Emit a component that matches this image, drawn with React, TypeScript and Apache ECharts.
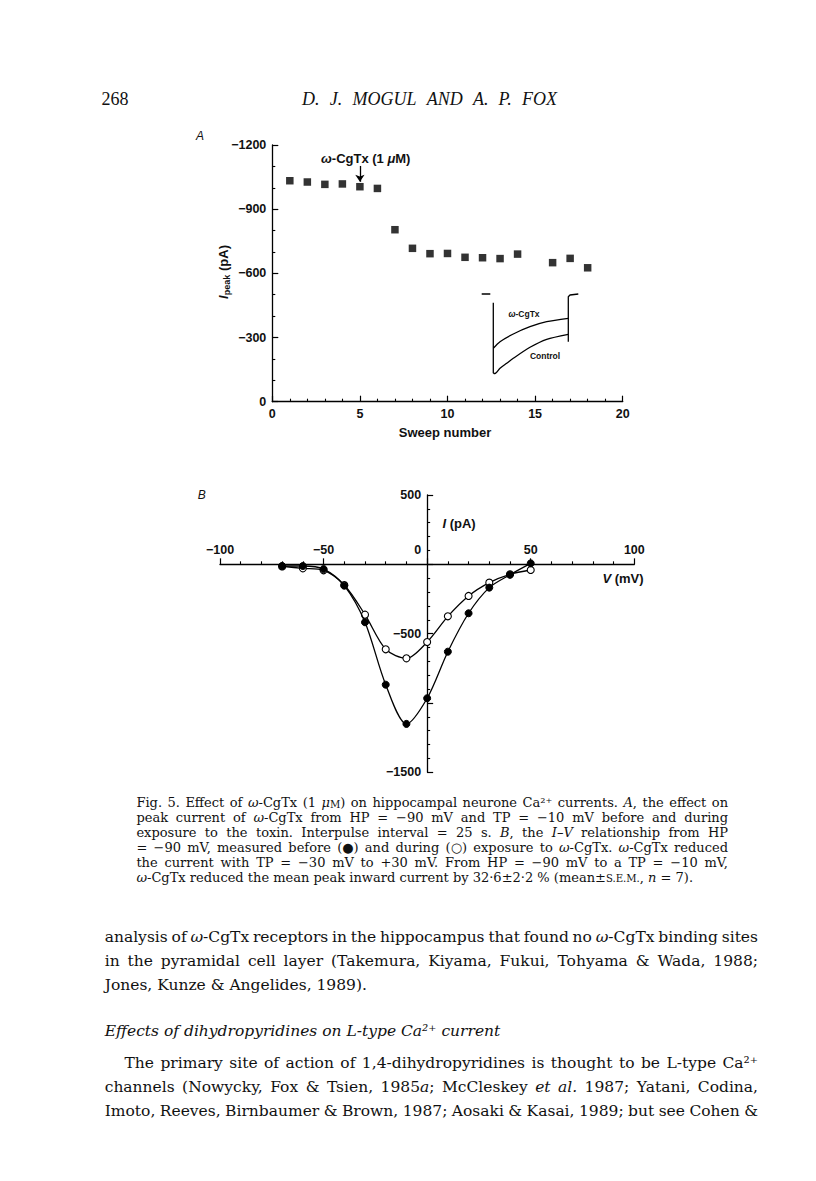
import React, { useEffect, useRef } from 'react';
import * as echarts from 'echarts';

// ---------- Panel A data ----------
const sweepNumbers = [1, 2, 3, 4, 5, 6, 7, 8, 9, 10, 11, 12, 13, 14, 16, 17, 18];
const peakCurrents = [-1033, -1027, -1016, -1018, -1005, -997, -804, -717, -692, -693, -675, -673, -669, -690, -650, -670, -626];
const toxinSweep = 5;
const arrowFrom = -1102;
const arrowTo = -1028;

// ---------- Inset current traces (ms, arbitrary pA) ----------
const holdT = [-11.6, -3];
const holdI = [0, 0];
const onsetT = [0, 0];
const onsetI = [-87, -793];
const controlT = [0, 1.7, 6.7, 13.4, 20, 36.7, 53.4, 75];
const controlI = [-793, -795, -743, -693, -643, -533, -453, -403];
const cgtxT = [0, 6.7, 20, 36.7, 53.4, 75];
const cgtxI = [-543, -477, -400, -327, -277, -243];
const tailT = [75, 75, 76.7, 85];
const tailI = [-477, -27, -10, 0];

// ---------- Panel B data ----------
const voltages = [-70, -60, -50, -40, -30, -20, -10, 0, 10, 20, 30, 40, 50];
const controlIV = [-12, -12, -34, -154, -418, -868, -1151, -966, -630, -353, -168, -75, 7];
const cgtxIV = [-15, -29, -43, -149, -363, -613, -678, -560, -375, -228, -132, -72, -41];

// ---------- Page text ----------
const pageNumber = '268';
const runningHead = 'D. J. MOGUL AND A. P. FOX';
const captionLines = [
  'Fig. 5. Effect of _ω_-CgTx (1 _μ_^M^) on hippocampal neurone Ca²⁺ currents. _A_, the effect on',
  'peak current of _ω_-CgTx from HP = −90 mV and TP = −10 mV before and during',
  'exposure to the toxin. Interpulse interval = 25 s. _B_, the _I–V_ relationship from HP',
  '= −90 mV, measured before (●) and during (○) exposure to _ω_-CgTx. _ω_-CgTx reduced',
  'the current with TP = −30 mV to +30 mV. From HP = −90 mV to a TP = −10 mV,',
  '_ω_-CgTx reduced the mean peak inward current by 32·6±2·2 % (mean±^S.E.M.^, _n_ = 7).',
];
const bodyLines1 = [
  'analysis of _ω_-CgTx receptors in the hippocampus that found no _ω_-CgTx binding sites',
  'in the pyramidal cell layer (Takemura, Kiyama, Fukui, Tohyama & Wada, 1988;',
  'Jones, Kunze & Angelides, 1989).',
];
const headingText = 'Effects of dihydropyridines on L-type Ca²⁺ current';
const bodyLines2 = [
  'The primary site of action of 1,4-dihydropyridines is thought to be L-type Ca²⁺',
  'channels (Nowycky, Fox & Tsien, 1985_a_; McCleskey _et_ _al._ 1987; Yatani, Codina,',
  'Imoto, Reeves, Birnbaumer & Brown, 1987; Aosaki & Kasai, 1989; but see Cohen &',
];

const INK = '#111111';
const MARK = '#000000';
const SANS = '"Liberation Sans", Arial, Helvetica, sans-serif';
const SERIF = '"DejaVu Serif", serif';
const HEADSERIF = '"Liberation Serif", "Times New Roman", serif';

type Seg = { t: string; i: boolean; sc: boolean };

function parseWord(w: string): Seg[] {
  const segs: Seg[] = [];
  let it = false;
  let sc = false;
  let cur = '';
  for (const ch of w) {
    if (ch === '_' || ch === '^') {
      if (cur) segs.push({ t: cur, i: it, sc });
      cur = '';
      if (ch === '_') it = !it;
      else sc = !sc;
    } else cur += ch;
  }
  if (cur) segs.push({ t: cur, i: it, sc });
  return segs;
}

function textLine(
  ctx: CanvasRenderingContext2D,
  text: string,
  o: { x0: number; x1?: number; y: number; size: number; family: string; italic?: boolean; justify?: boolean }
) {
  const baseItalic = !!o.italic;
  const scSize = Math.round(o.size * 0.78 * 10) / 10;
  const font = (sz: number, it: boolean) => `${it ? 'italic' : 'normal'} normal ${sz}px ${o.family}`;
  const words = text.split(' ').filter((w) => w.length > 0);
  const items = words.map((w) => {
    const segs = parseWord(w);
    let width = 0;
    let str = '';
    segs.forEach((s) => {
      const it = baseItalic || s.i;
      const sz = s.sc ? scSize : o.size;
      ctx.font = font(sz, it);
      width += ctx.measureText(s.t).width;
      if (s.sc) str += `{sc|${s.t}}`;
      else if (s.i && !baseItalic) str += `{i|${s.t}}`;
      else str += s.t;
    });
    return { str, width };
  });
  ctx.font = font(o.size, baseItalic);
  const space = ctx.measureText(' ').width;
  const total = items.reduce((a, b) => a + b.width, 0);
  let gap = space;
  if (o.justify && o.x1 !== undefined && items.length > 1) gap = (o.x1 - o.x0 - total) / (items.length - 1);
  const rich = {
    i: { fontStyle: 'italic', fontSize: o.size, fontFamily: o.family, fill: INK, color: INK },
    sc: { fontStyle: baseItalic ? 'italic' : 'normal', fontSize: scSize, fontFamily: o.family, fill: INK, color: INK, verticalAlign: 'bottom' },
  };
  let x = o.x0;
  return items.map((it) => {
    const el = {
      type: 'text',
      x,
      y: o.y,
      silent: true,
      style: {
        text: it.str,
        fontSize: o.size,
        fontFamily: o.family,
        fontStyle: baseItalic ? 'italic' : 'normal',
        fill: INK,
        align: 'left',
        verticalAlign: 'middle',
        textAlign: 'left',
        textVerticalAlign: 'middle',
        rich,
      },
    };
    x += it.width + gap;
    return el;
  });
}

const pair = (xs: number[], ys: number[]) => xs.map((x, i) => [x, ys[i]]);
const minus = (v: number) => String(v).replace('-', '−');

export default function App() {
  const ref = useRef<HTMLDivElement>(null);

  useEffect(() => {
    if (!ref.current) return;
    const chart = echarts.init(ref.current, null, { renderer: 'svg' });
    const canvas = document.createElement('canvas');
    const ctx = canvas.getContext('2d') as CanvasRenderingContext2D;

    const texts: any[] = [];
    // running head
    texts.push(...textLine(ctx, pageNumber, { x0: 101.5, y: 99, size: 18, family: HEADSERIF }));
    texts.push(...textLine(ctx, runningHead, { x0: 302, x1: 557, y: 99, size: 18, family: HEADSERIF, italic: true, justify: true }));
    // caption
    const capY = [802.8, 817.8, 832.8, 847.6, 862.5, 877.2];
    captionLines.forEach((l, k) => {
      texts.push(...textLine(ctx, l, { x0: 136.4, x1: 728, y: capY[k], size: 13, family: SERIF, justify: k < captionLines.length - 1 }));
    });
    // body
    const b1Y = [936.9, 960.6, 985.1];
    bodyLines1.forEach((l, k) => {
      texts.push(...textLine(ctx, l, { x0: 104.7, x1: 758, y: b1Y[k], size: 15.5, family: SERIF, justify: k < bodyLines1.length - 1 }));
    });
    texts.push(...textLine(ctx, headingText, { x0: 104.7, y: 1030.9, size: 15.5, family: SERIF, italic: true }));
    const b2Y = [1062.5, 1087, 1110.8];
    bodyLines2.forEach((l, k) => {
      texts.push(...textLine(ctx, l, { x0: k === 0 ? 124.5 : 104.7, x1: 758, y: b2Y[k], size: 15.5, family: SERIF, justify: true }));
    });

    const sansText = (x: number, y: number, text: string, size: number, extra: any = {}) => ({
      type: 'text',
      x,
      y,
      silent: true,
      rotation: extra.rotation || 0,
      style: {
        text,
        fontSize: size,
        fontFamily: SANS,
        fontWeight: extra.fontWeight || 'bold',
        fontStyle: extra.fontStyle || 'normal',
        fill: INK,
        align: 'center',
        verticalAlign: 'middle',
        textAlign: 'center',
        textVerticalAlign: 'middle',
        rich: {
          i: { fontStyle: 'italic', fontSize: size, fontFamily: SANS, fontWeight: 'bold', fill: INK },
          sub: { fontSize: size * 0.7, fontFamily: SANS, fontWeight: 'bold', fill: INK, padding: [8, 0, 0, 0] },
        },
      },
    });

    const chartTexts = [
      sansText(200, 136, 'A', 12, { fontStyle: 'italic', fontWeight: 'normal' }),
      sansText(201.7, 495, 'B', 12, { fontStyle: 'italic', fontWeight: 'normal' }),
      sansText(365.7, 158.3, '{i|ω}-CgTx (1 {i|μ}M)', 13),
      sansText(445, 432.3, 'Sweep number', 13),
      sansText(223.3, 272, '{i|I}{sub|peak} (pA)', 13, { rotation: Math.PI / 2 }),
      sansText(524, 314.3, '{i|ω}-CgTx', 8.5),
      sansText(545, 356, 'Control', 8.5),
      sansText(459, 523, '{i|I} (pA)', 13),
      sansText(623, 578, '{i|V} (mV)', 13),
    ];

    const axisLine = { show: true, onZero: false, lineStyle: { color: MARK, width: 1.3 } };
    const tickLabel = { color: INK, fontFamily: SANS, fontWeight: 'bold', fontSize: 12.5 };
    const majorTick = { show: true, inside: true, length: 6, lineStyle: { color: MARK, width: 1.2 } };
    const minorTickStyle = { length: 3, lineStyle: { color: MARK, width: 1.1 } };

    // panel B grid geometry; axes are shifted so they cross at (0, 0)
    const bLeft = 220;
    const bTop = 495;
    const bWidth = 414.3;
    const bHeight = 277.3;
    const xMinB = -100;
    const xMaxB = 100;
    const yMinB = -1500;
    const yMaxB = 500;
    const xAxisShift = -bHeight * (0 - yMinB) / (yMaxB - yMinB);
    const yAxisShift = -bWidth * (0 - xMinB) / (xMaxB - xMinB);

    const inset = (data: number[][], smooth: number | boolean = false) => ({
      type: 'line',
      xAxisIndex: 2,
      yAxisIndex: 2,
      data,
      smooth,
      showSymbol: false,
      symbol: 'none',
      silent: true,
      lineStyle: { color: MARK, width: 1.3 },
    });

    chart.setOption({
      animation: false,
      backgroundColor: '#ffffff',
      grid: [
        { left: 272.3, top: 145, width: 350.4, height: 256.7, containLabel: false, outerBoundsMode: 'none' },
        { left: bLeft, top: bTop, width: bWidth, height: bHeight, containLabel: false, outerBoundsMode: 'none' },
        { left: 481.3, top: 289, width: 100, height: 90, containLabel: false, outerBoundsMode: 'none' },
      ],
      xAxis: [
        {
          type: 'value', gridIndex: 0, min: 0, max: 20, interval: 5,
          axisLine,
          axisTick: majorTick,
          minorTick: { show: true, splitNumber: 5, ...minorTickStyle },
          axisLabel: { ...tickLabel, margin: 6 },
          splitLine: { show: false },
          minorSplitLine: { show: false },
        },
        {
          type: 'value', gridIndex: 1, min: xMinB, max: xMaxB, interval: 50,
          position: 'bottom',
          offset: xAxisShift,
          axisLine,
          axisTick: majorTick,
          minorTick: { show: true, splitNumber: 5, ...minorTickStyle },
          axisLabel: {
            ...tickLabel,
            inside: true,
            margin: 8,
            formatter: (v: number) => (v === 0 ? '{z|0}' : minus(v)),
            rich: { z: { ...tickLabel, padding: [0, 19, 0, 0] } },
          },
          splitLine: { show: false },
          minorSplitLine: { show: false },
        },
        { type: 'value', gridIndex: 2, min: -12, max: 88, show: false },
      ],
      yAxis: [
        {
          type: 'value', gridIndex: 0, min: -1200, max: 0, interval: 300, inverse: true,
          axisLine,
          axisTick: majorTick,
          minorTick: { show: true, splitNumber: 3, ...minorTickStyle },
          axisLabel: { ...tickLabel, margin: 6, formatter: (v: number) => minus(v) },
          splitLine: { show: false },
          minorSplitLine: { show: false },
        },
        {
          type: 'value', gridIndex: 1, min: yMinB, max: yMaxB, interval: 500,
          position: 'left',
          offset: yAxisShift,
          axisLine,
          axisTick: majorTick,
          minorTick: { show: true, splitNumber: 5, ...minorTickStyle },
          axisLabel: {
            ...tickLabel,
            margin: 6,
            formatter: (v: number) => (v === 0 || v === -1000 ? '' : minus(v)),
          },
          splitLine: { show: false },
          minorSplitLine: { show: false },
        },
        { type: 'value', gridIndex: 2, min: -850, max: 50, show: false },
      ],
      series: [
        {
          type: 'scatter',
          xAxisIndex: 0,
          yAxisIndex: 0,
          data: pair(sweepNumbers, peakCurrents),
          symbol: 'rect',
          symbolSize: 7.5,
          itemStyle: { color: MARK },
          silent: true,
          markLine: {
            silent: true,
            symbol: ['none', 'arrow'],
            symbolSize: 7,
            label: { show: false },
            lineStyle: { color: MARK, width: 1.3, type: 'solid' },
            data: [[{ coord: [toxinSweep, arrowFrom] }, { coord: [toxinSweep, arrowTo] }]],
          },
        },
        inset(pair(holdT, holdI)),
        inset(pair(onsetT, onsetI)),
        inset(pair(controlT, controlI), 0.25),
        inset(pair(cgtxT, cgtxI), 0.25),
        inset(pair(tailT, tailI)),
        {
          type: 'line',
          xAxisIndex: 1,
          yAxisIndex: 1,
          data: pair(voltages, cgtxIV),
          smooth: 0.3,
          symbol: 'circle',
          symbolSize: 7,
          showSymbol: true,
          silent: true,
          lineStyle: { color: MARK, width: 1.3 },
          itemStyle: { color: '#ffffff', borderColor: MARK, borderWidth: 1.1 },
          z: 2,
        },
        {
          type: 'line',
          xAxisIndex: 1,
          yAxisIndex: 1,
          data: pair(voltages, controlIV),
          smooth: 0.3,
          symbol: 'circle',
          symbolSize: 7,
          showSymbol: true,
          silent: true,
          lineStyle: { color: MARK, width: 1.3 },
          itemStyle: { color: MARK, borderColor: MARK, borderWidth: 1 },
          z: 3,
        },
      ],
      graphic: { elements: [...chartTexts, ...texts] },
    });

    return () => chart.dispose();
  }, []);

  return (
    <div
      ref={ref}
      style={{ position: 'absolute', left: 0, top: 0, width: 816, height: 1181, background: '#ffffff' }}
    />
  );
}
